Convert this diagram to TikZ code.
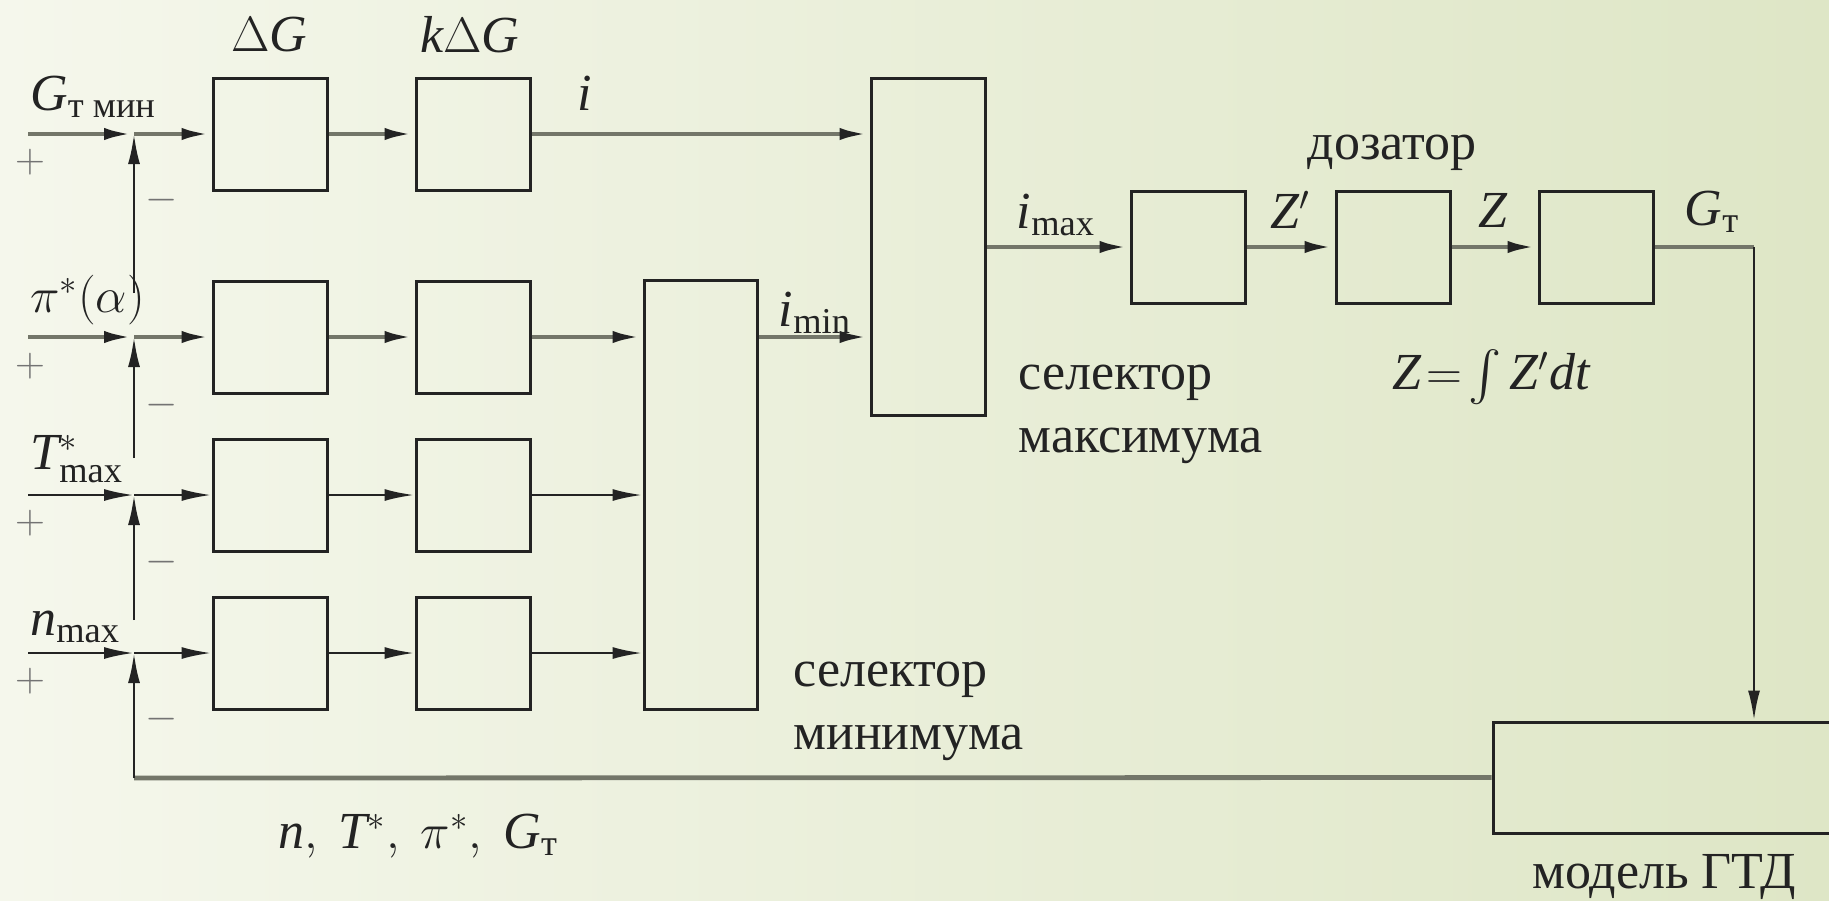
\documentclass[tikz,border=0pt]{standalone}
\usepackage{amsmath}
\usepackage{fontspec}
\setmainfont{Liberation Serif}
\usetikzlibrary{arrows.meta,calc}
\definecolor{bgA}{RGB}{245,247,236}
\definecolor{bgB}{RGB}{222,230,198}
\definecolor{ln}{RGB}{35,35,35}
\definecolor{lg}{RGB}{115,118,105}
\newcommand{\vi}[1]{\mathit{#1}}
\begin{document}
\begin{tikzpicture}[x=0.5pt,y=-0.5pt,
  blk/.style={draw=ln, line width=1.5pt, minimum width=57pt, minimum height=56pt, inner sep=0pt},
  sig/.style={draw=ln, line width=1.3pt, -{Latex[length=15pt,width=6pt,color=ln]}},
  sigg/.style={draw=lg, line width=2.4pt, -{Latex[length=15pt,width=6pt,color=ln]}},
  lineg/.style={draw=lg, line width=2.4pt},
  txt/.style={font=\fontsize{26}{31.5}\selectfont, inner sep=0pt, text=ln},
  sgn/.style={font=\fontsize{20}{24}\selectfont, inner sep=0pt, text=black!55}
]
\useasboundingbox (0,0) rectangle (1829,900);
\clip (0,0) rectangle (1829,900);
\shade[left color=bgA, right color=bgB] (0,0) rectangle (1829,900);

% boxes
\node[blk] (b11) at (270,134) {};
\node[blk] (b12) at (473,134) {};
\node[blk] (b21) at (270,337) {};
\node[blk] (b22) at (473,337) {};
\node[blk] (b31) at (270,495) {};
\node[blk] (b32) at (473,495) {};
\node[blk] (b41) at (270,653) {};
\node[blk] (b42) at (473,653) {};
\node[blk, minimum width=56.5pt, minimum height=214.5pt] (minsel) at (700.5,494.5) {};
\node[blk, minimum width=57pt, minimum height=168.5pt] (maxsel) at (928,246.5) {};
\node[blk] (bA) at (1188,247) {};
\node[blk] (bB) at (1393,247) {};
\node[blk] (bC) at (1596,247) {};
\node[blk, minimum width=171pt, minimum height=55.5pt] (gtd) at (1664,777.5) {};

% coordinates
\coordinate (s1) at (28,134);
\coordinate (s2) at (28,337);
\coordinate (s3) at (28,495);
\coordinate (s4) at (28,653);
\coordinate (j1) at (134,134);
\coordinate (j2) at (134,337);
\coordinate (j3) at (134,495);
\coordinate (j4) at (134,653);
\coordinate (f1) at (134,293);
\coordinate (f2) at (134,458);
\coordinate (f3) at (134,620);
\coordinate (fb) at (134,778);
\coordinate (corner) at (1754,247);

% row 1
\draw[sigg] (s1) -- (j1);
\draw[sigg] (j1) -- (b11.west);
\draw[sigg] (b11.east) -- (b12.west);
\draw[sigg] (b12.east) -- (b12.east -| maxsel.west);
% row 2
\draw[sigg] (s2) -- (j2);
\draw[sigg] (j2) -- (b21.west);
\draw[sigg] (b21.east) -- (b22.west);
\draw[sigg] (b22.east) -- (b22.east -| minsel.west);
% row 3
\draw[sig] (s3) -- (j3);
\draw[sig] (j3) -- (b31.west);
\draw[sig] (b31.east) -- (b32.west);
\draw[sig] (b32.east) -- (b32.east -| minsel.west);
% row 4
\draw[sig] (s4) -- (j4);
\draw[sig] (j4) -- (b41.west);
\draw[sig] (b41.east) -- (b42.west);
\draw[sig] (b42.east) -- (b42.east -| minsel.west);
% feedback verticals
\draw[sig] (f1) -- (j1);
\draw[sig] (f2) -- (j2);
\draw[sig] (f3) -- (j3);
\draw[lineg] (gtd.west) -- (fb);
\draw[sig] (fb) -- (j4);
% selectors and chain
\draw[sigg] (minsel.east |- b22) -- (maxsel.west |- b22);
\draw[sigg] (maxsel.east |- bA) -- (bA.west);
\draw[sigg] (bA.east) -- (bB.west);
\draw[sigg] (bB.east) -- (bC.west);
\draw[lineg] (bC.east) -- (corner);
\draw[sig] (corner) -- (corner |- gtd.north);

% labels
\node[txt] (lDG) at (269,35) {$\Delta \vi{G}$};
\node[txt] (lkDG) at (470,35) {$\vi{k}\Delta \vi{G}$};
\node[txt, anchor=west] (lG) at (30,97) {$\vi{G}_{\text{т мин}}$};
\node[txt, anchor=west] (lpi) at (30,300) {$\pi^*(\alpha)$};
\node[txt, anchor=west] (lT) at (30,459) {$\vi{T}^*_{\max}$};
\node[txt, anchor=west] (lnm) at (30,627) {$\vi{n}_{\max}$};
\node[sgn] (p1) at (30,162) {$+$};
\node[sgn] (p2) at (30,366) {$+$};
\node[sgn] (p3) at (30,523) {$+$};
\node[sgn] (p4) at (30,681) {$+$};
\node[sgn] (m1) at (162,200) {$-$};
\node[sgn] (m2) at (162,405) {$-$};
\node[sgn] (m3) at (162,562) {$-$};
\node[sgn] (m4) at (162,719) {$-$};
\node[txt] (li) at (585,93) {$\vi{i}$};
\node[txt] (limin) at (815,313) {$\vi{i}_{\min}$};
\node[txt] (limax) at (1056,215) {$\vi{i}_{\max}$};
\node[txt] (lZp) at (1290,210) {$\vi{Z}'$};
\node[txt] (lZ) at (1493,210) {$\vi{Z}$};
\node[txt] (lGt) at (1712,212) {$\vi{G}_{\text{т}}$};
\node[txt] (ldoz) at (1392,153) {дозатор};
\node[txt] (lint) at (1491,377) {$\vi{Z}\!=\!\int \vi{Z}'\vi{dt}$};
\node[txt, anchor=west, align=left] (lsmax) at (1018,414) {селектор\\максимума};
\node[txt, anchor=west, align=left] (lsmin) at (793,711) {селектор\\минимума};
\node[txt] (lout) at (418,836) {$\vi{n},\ \vi{T}^{*},\ \pi^{*},\ \vi{G}_{\text{т}}$};
\node[txt] (lgtd) at (1664,877) {модель ГТД};
\end{tikzpicture}
\end{document}
